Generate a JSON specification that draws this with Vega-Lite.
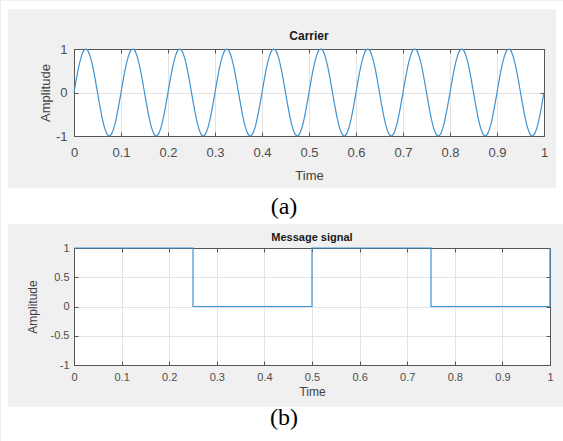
{
"$schema": "https://vega.github.io/schema/vega-lite/v6.json",
"background": "#f0f0f0",
"padding": 0,
"bounds": "flush",
"spacing": 112,
"config": {
  "view": {"fill": "white", "stroke": "#555555", "strokeWidth": 1},
  "axis": {"labelFont": "Liberation Sans", "titleFont": "Liberation Sans", "labelColor": "#4d4d4d", "titleColor": "#404040", "titleFontWeight": "normal", "gridColor": "#e3e3e3", "gridWidth": 1, "domain": true, "domainColor": "#555555", "ticks": true, "tickSize": -4, "tickColor": "#555555", "labelFlush": false, "labelOverlap": false, "labelExpr": "replace(datum.label, '−', '-')"},
  "text": {"font": "Liberation Sans"}
},
"datasets": {
"carrier": [
{"t":0,"a":0},{"t":0.005,"a":0.309},{"t":0.01,"a":0.588},{"t":0.015,"a":0.809},{"t":0.02,"a":0.951},{"t":0.025,"a":1},{"t":0.03,"a":0.951},{"t":0.035,"a":0.809},{"t":0.04,"a":0.588},{"t":0.045,"a":0.309},{"t":0.05,"a":0},{"t":0.055,"a":-0.309},{"t":0.06,"a":-0.588},{"t":0.065,"a":-0.809},{"t":0.07,"a":-0.951},{"t":0.075,"a":-1},{"t":0.08,"a":-0.951},{"t":0.085,"a":-0.809},{"t":0.09,"a":-0.588},{"t":0.095,"a":-0.309},
{"t":0.1,"a":0},{"t":0.105,"a":0.309},{"t":0.11,"a":0.588},{"t":0.115,"a":0.809},{"t":0.12,"a":0.951},{"t":0.125,"a":1},{"t":0.13,"a":0.951},{"t":0.135,"a":0.809},{"t":0.14,"a":0.588},{"t":0.145,"a":0.309},{"t":0.15,"a":0},{"t":0.155,"a":-0.309},{"t":0.16,"a":-0.588},{"t":0.165,"a":-0.809},{"t":0.17,"a":-0.951},{"t":0.175,"a":-1},{"t":0.18,"a":-0.951},{"t":0.185,"a":-0.809},{"t":0.19,"a":-0.588},{"t":0.195,"a":-0.309},
{"t":0.2,"a":0},{"t":0.205,"a":0.309},{"t":0.21,"a":0.588},{"t":0.215,"a":0.809},{"t":0.22,"a":0.951},{"t":0.225,"a":1},{"t":0.23,"a":0.951},{"t":0.235,"a":0.809},{"t":0.24,"a":0.588},{"t":0.245,"a":0.309},{"t":0.25,"a":0},{"t":0.255,"a":-0.309},{"t":0.26,"a":-0.588},{"t":0.265,"a":-0.809},{"t":0.27,"a":-0.951},{"t":0.275,"a":-1},{"t":0.28,"a":-0.951},{"t":0.285,"a":-0.809},{"t":0.29,"a":-0.588},{"t":0.295,"a":-0.309},
{"t":0.3,"a":0},{"t":0.305,"a":0.309},{"t":0.31,"a":0.588},{"t":0.315,"a":0.809},{"t":0.32,"a":0.951},{"t":0.325,"a":1},{"t":0.33,"a":0.951},{"t":0.335,"a":0.809},{"t":0.34,"a":0.588},{"t":0.345,"a":0.309},{"t":0.35,"a":0},{"t":0.355,"a":-0.309},{"t":0.36,"a":-0.588},{"t":0.365,"a":-0.809},{"t":0.37,"a":-0.951},{"t":0.375,"a":-1},{"t":0.38,"a":-0.951},{"t":0.385,"a":-0.809},{"t":0.39,"a":-0.588},{"t":0.395,"a":-0.309},
{"t":0.4,"a":0},{"t":0.405,"a":0.309},{"t":0.41,"a":0.588},{"t":0.415,"a":0.809},{"t":0.42,"a":0.951},{"t":0.425,"a":1},{"t":0.43,"a":0.951},{"t":0.435,"a":0.809},{"t":0.44,"a":0.588},{"t":0.445,"a":0.309},{"t":0.45,"a":0},{"t":0.455,"a":-0.309},{"t":0.46,"a":-0.588},{"t":0.465,"a":-0.809},{"t":0.47,"a":-0.951},{"t":0.475,"a":-1},{"t":0.48,"a":-0.951},{"t":0.485,"a":-0.809},{"t":0.49,"a":-0.588},{"t":0.495,"a":-0.309},
{"t":0.5,"a":0},{"t":0.505,"a":0.309},{"t":0.51,"a":0.588},{"t":0.515,"a":0.809},{"t":0.52,"a":0.951},{"t":0.525,"a":1},{"t":0.53,"a":0.951},{"t":0.535,"a":0.809},{"t":0.54,"a":0.588},{"t":0.545,"a":0.309},{"t":0.55,"a":0},{"t":0.555,"a":-0.309},{"t":0.56,"a":-0.588},{"t":0.565,"a":-0.809},{"t":0.57,"a":-0.951},{"t":0.575,"a":-1},{"t":0.58,"a":-0.951},{"t":0.585,"a":-0.809},{"t":0.59,"a":-0.588},{"t":0.595,"a":-0.309},
{"t":0.6,"a":0},{"t":0.605,"a":0.309},{"t":0.61,"a":0.588},{"t":0.615,"a":0.809},{"t":0.62,"a":0.951},{"t":0.625,"a":1},{"t":0.63,"a":0.951},{"t":0.635,"a":0.809},{"t":0.64,"a":0.588},{"t":0.645,"a":0.309},{"t":0.65,"a":0},{"t":0.655,"a":-0.309},{"t":0.66,"a":-0.588},{"t":0.665,"a":-0.809},{"t":0.67,"a":-0.951},{"t":0.675,"a":-1},{"t":0.68,"a":-0.951},{"t":0.685,"a":-0.809},{"t":0.69,"a":-0.588},{"t":0.695,"a":-0.309},
{"t":0.7,"a":0},{"t":0.705,"a":0.309},{"t":0.71,"a":0.588},{"t":0.715,"a":0.809},{"t":0.72,"a":0.951},{"t":0.725,"a":1},{"t":0.73,"a":0.951},{"t":0.735,"a":0.809},{"t":0.74,"a":0.588},{"t":0.745,"a":0.309},{"t":0.75,"a":0},{"t":0.755,"a":-0.309},{"t":0.76,"a":-0.588},{"t":0.765,"a":-0.809},{"t":0.77,"a":-0.951},{"t":0.775,"a":-1},{"t":0.78,"a":-0.951},{"t":0.785,"a":-0.809},{"t":0.79,"a":-0.588},{"t":0.795,"a":-0.309},
{"t":0.8,"a":0},{"t":0.805,"a":0.309},{"t":0.81,"a":0.588},{"t":0.815,"a":0.809},{"t":0.82,"a":0.951},{"t":0.825,"a":1},{"t":0.83,"a":0.951},{"t":0.835,"a":0.809},{"t":0.84,"a":0.588},{"t":0.845,"a":0.309},{"t":0.85,"a":0},{"t":0.855,"a":-0.309},{"t":0.86,"a":-0.588},{"t":0.865,"a":-0.809},{"t":0.87,"a":-0.951},{"t":0.875,"a":-1},{"t":0.88,"a":-0.951},{"t":0.885,"a":-0.809},{"t":0.89,"a":-0.588},{"t":0.895,"a":-0.309},
{"t":0.9,"a":0},{"t":0.905,"a":0.309},{"t":0.91,"a":0.588},{"t":0.915,"a":0.809},{"t":0.92,"a":0.951},{"t":0.925,"a":1},{"t":0.93,"a":0.951},{"t":0.935,"a":0.809},{"t":0.94,"a":0.588},{"t":0.945,"a":0.309},{"t":0.95,"a":0},{"t":0.955,"a":-0.309},{"t":0.96,"a":-0.588},{"t":0.965,"a":-0.809},{"t":0.97,"a":-0.951},{"t":0.975,"a":-1},{"t":0.98,"a":-0.951},{"t":0.985,"a":-0.809},{"t":0.99,"a":-0.588},{"t":0.995,"a":-0.309},
{"t":1,"a":0}
],
"message": [
{"i":0,"t":0,"m":1},{"i":1,"t":0.25,"m":1},{"i":2,"t":0.25,"m":0},{"i":3,"t":0.5,"m":0},{"i":4,"t":0.5,"m":1},{"i":5,"t":0.75,"m":1},{"i":6,"t":0.75,"m":0},{"i":7,"t":1,"m":0},{"i":8,"t":1,"m":1}
]
},
"vconcat": [
{
  "width": 470, "height": 87,
  "resolve": {"axis": {"x": "independent", "y": "independent"}},
  "layer": [
    {"data": {"values": [{}]}, "mark": {"type": "rect", "color": "white"},
     "encoding": {"x": {"datum": -0.1554, "type": "quantitative", "scale": {"domain": [0, 1], "nice": false, "zero": false},
                        "axis": {"orient": "top", "labels": false, "title": null, "grid": false, "values": [0, 0.1, 0.2, 0.3, 0.4, 0.5, 0.6, 0.7, 0.8, 0.9, 1]}}, "x2": {"datum": 1.0426},
                  "y": {"datum": 2.1034, "type": "quantitative", "scale": {"domain": [-1, 1], "nice": false, "zero": false},
                        "axis": {"orient": "right", "labels": false, "title": null, "grid": false, "values": [-1, 0, 1]}}, "y2": {"datum": 1.9195}}},
    {"data": {"values": [{}]}, "mark": {"type": "rect", "color": "white"},
     "encoding": {"x": {"datum": -0.1554, "type": "quantitative", "scale": {"domain": [0, 1], "nice": false, "zero": false}, "axis": null}, "x2": {"datum": -0.1404},
                  "y": {"datum": 2.1034, "type": "quantitative", "scale": {"domain": [-1, 1], "nice": false, "zero": false}, "axis": null}, "y2": {"datum": -3.023}}},
    {"data": {"values": [{}]}, "mark": {"type": "rect", "color": "white"},
     "encoding": {"x": {"datum": 1.0255, "type": "quantitative", "scale": {"domain": [0, 1], "nice": false, "zero": false}, "axis": null}, "x2": {"datum": 1.0426},
                  "y": {"datum": 1.9195, "type": "quantitative", "scale": {"domain": [-1, 1], "nice": false, "zero": false}, "axis": null}, "y2": {"datum": -2.1954}}},
    {"data": {"values": [{}]}, "mark": {"type": "rect", "color": "white"},
     "encoding": {"x": {"datum": -0.1404, "type": "quantitative", "scale": {"domain": [0, 1], "nice": false, "zero": false}, "axis": null}, "x2": {"datum": 1.0426},
                  "y": {"datum": -2.1954, "type": "quantitative", "scale": {"domain": [-1, 1], "nice": false, "zero": false}, "axis": null}, "y2": {"datum": -3.023}}},
    {"data": {"name": "carrier"},
     "mark": {"type": "line", "color": "#3f93d0", "strokeWidth": 1.2, "interpolate": "monotone"},
     "encoding": {
       "x": {"field": "t", "type": "quantitative", "scale": {"domain": [0, 1], "nice": false, "zero": false},
             "axis": {"orient": "bottom", "title": "Time", "values": [0, 0.1, 0.2, 0.3, 0.4, 0.5, 0.6, 0.7, 0.8, 0.9, 1], "format": "~g", "labelFontSize": 13, "titleFontSize": 13, "labelPadding": 14, "titlePadding": 10, "grid": true}},
       "y": {"field": "a", "type": "quantitative", "scale": {"domain": [-1, 1], "nice": false, "zero": false},
             "axis": {"orient": "left", "title": "Amplitude", "values": [-1, 0, 1], "format": "~g", "labelFontSize": 13, "titleFontSize": 13, "labelPadding": 11, "titlePadding": 3, "grid": true}}
     }},
    {"data": {"values": [{}]}, "mark": {"type": "text", "text": "Carrier", "fontWeight": "bold", "fontSize": 12, "color": "#1a1a1a", "align": "center", "baseline": "middle"},
     "encoding": {"x": {"datum": 0.5, "type": "quantitative", "scale": {"domain": [0, 1], "nice": false, "zero": false}, "axis": null},
                  "y": {"datum": 1.2989, "type": "quantitative", "scale": {"domain": [-1, 1], "nice": false, "zero": false}, "axis": null}}},
    {"data": {"values": [{}]}, "mark": {"type": "text", "text": "(a)", "font": "Liberation Serif", "fontSize": 24, "color": "#000000", "align": "center", "baseline": "middle"},
     "encoding": {"x": {"datum": 0.4468, "type": "quantitative", "scale": {"domain": [0, 1], "nice": false, "zero": false}, "axis": null},
                  "y": {"datum": -2.64, "type": "quantitative", "scale": {"domain": [-1, 1], "nice": false, "zero": false}, "axis": null}}}
  ]
},
{
  "width": 476, "height": 117,
  "resolve": {"axis": {"x": "independent", "y": "independent"}},
  "layer": [
    {"data": {"values": [{}]}, "mark": {"type": "rect", "color": "white"},
     "encoding": {"x": {"datum": -0.1534, "type": "quantitative", "scale": {"domain": [0, 1], "nice": false, "zero": false},
                        "axis": {"orient": "top", "labels": false, "title": null, "grid": false, "values": [0, 0.1, 0.2, 0.3, 0.4, 0.5, 0.6, 0.7, 0.8, 0.9, 1]}}, "x2": {"datum": -0.1387},
                  "y": {"datum": 1.4103, "type": "quantitative", "scale": {"domain": [-1, 1], "nice": false, "zero": false},
                        "axis": {"orient": "right", "labels": false, "title": null, "grid": false, "values": [-1, -0.5, 0, 0.5, 1]}}, "y2": {"datum": -2.3162}}},
    {"data": {"values": [{}]}, "mark": {"type": "rect", "color": "white"},
     "encoding": {"x": {"datum": -0.1387, "type": "quantitative", "scale": {"domain": [0, 1], "nice": false, "zero": false}, "axis": null}, "x2": {"datum": 1.0294},
                  "y": {"datum": -1.718, "type": "quantitative", "scale": {"domain": [-1, 1], "nice": false, "zero": false}, "axis": null}, "y2": {"datum": -2.3162}}},
    {"data": {"name": "message"},
     "mark": {"type": "line", "color": "#3f93d0", "strokeWidth": 1.2},
     "encoding": {
       "x": {"field": "t", "type": "quantitative", "scale": {"domain": [0, 1], "nice": false, "zero": false},
             "axis": {"orient": "bottom", "title": "Time", "values": [0, 0.1, 0.2, 0.3, 0.4, 0.5, 0.6, 0.7, 0.8, 0.9, 1], "format": "~g", "labelFontSize": 11, "titleFontSize": 12, "labelPadding": 10, "titlePadding": 4, "grid": true}},
       "y": {"field": "m", "type": "quantitative", "scale": {"domain": [-1, 1], "nice": false, "zero": false},
             "axis": {"orient": "left", "title": "Amplitude", "values": [-1, -0.5, 0, 0.5, 1], "format": "~g", "labelFontSize": 11, "titleFontSize": 12, "labelPadding": 9, "titlePadding": 11, "grid": true}},
       "order": {"field": "i", "type": "quantitative"}
     }},
    {"data": {"values": [{}]}, "mark": {"type": "text", "text": "Message signal", "fontWeight": "bold", "fontSize": 11, "color": "#1a1a1a", "align": "center", "baseline": "middle"},
     "encoding": {"x": {"datum": 0.5, "type": "quantitative", "scale": {"domain": [0, 1], "nice": false, "zero": false}, "axis": null},
                  "y": {"datum": 1.176, "type": "quantitative", "scale": {"domain": [-1, 1], "nice": false, "zero": false}, "axis": null}}},
    {"data": {"values": [{}]}, "mark": {"type": "text", "text": "(b)", "font": "Liberation Serif", "fontSize": 24, "color": "#000000", "align": "center", "baseline": "middle"},
     "encoding": {"x": {"datum": 0.4412, "type": "quantitative", "scale": {"domain": [0, 1], "nice": false, "zero": false}, "axis": null},
                  "y": {"datum": -1.91, "type": "quantitative", "scale": {"domain": [-1, 1], "nice": false, "zero": false}, "axis": null}}}
  ]
}
]
}
